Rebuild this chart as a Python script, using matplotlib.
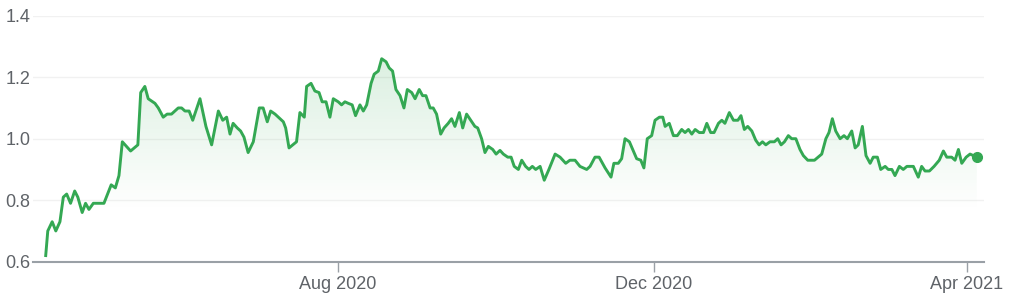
import numpy as np
import pandas as pd
import matplotlib
matplotlib.use('Agg')
import matplotlib.pyplot as plt
import matplotlib.dates as mdates
from matplotlib.colors import to_rgb

plt.rcParams['font.family'] = ['Liberation Sans', 'DejaVu Sans']

# days since 2020-04-01 and price
days = [9.1, 9.9, 11.6, 13.0, 14.6, 15.9, 17.2, 18.7, 20.3, 21.5, 23.2, 24.5, 25.8, 27.5, 31.6,
        34.4, 36.0, 37.4, 38.7, 41.9, 44.7, 45.8, 47.4, 48.7, 51.3, 52.6, 54.5, 56.0, 57.7,
        60.3, 61.6, 62.9, 64.5, 65.9, 68.7, 71.0, 73.2, 75.8, 77.5, 79.0, 80.3, 81.5, 83.1,
        84.4, 85.7, 87.3, 89.3, 91.6, 93.1, 94.7, 96.0, 97.7, 99.6, 100.9, 101.8, 103.1,
        106.0, 107.3, 109.0, 109.9, 111.6, 113.1, 114.7, 115.9, 117.4, 118.9, 120.2, 122.1,
        123.4, 124.7, 126.0, 127.5, 128.8, 130.5, 131.8, 133.1, 134.8, 136.0, 137.6, 138.9,
        140.6, 141.8, 143.1, 144.4, 146.0, 147.5, 148.8, 150.5, 151.8, 153.4, 154.7, 156.0,
        157.6, 158.8, 160.1, 161.7, 163.0, 164.6, 165.9, 167.2, 168.9, 170.2, 171.7, 173.7,
        174.9, 176.0, 177.5, 178.8, 180.1, 181.8, 183.1, 184.6, 185.9, 187.6, 188.9, 190.1,
        191.7, 193.0, 194.5, 195.8, 197.1, 198.4, 200.1, 201.7, 203.5, 205.9, 207.8, 210.0,
        211.6, 213.6, 215.5, 218.1, 219.4, 221.3, 222.9, 225.2, 227.5, 228.6, 230.3, 231.6,
        232.9, 234.6, 237.4, 239.0, 240.2, 241.5, 243.2, 244.5, 246.2, 247.5, 248.4, 250.0,
        251.6, 253.1, 254.8, 256.1, 257.4, 258.7, 260.0, 261.6, 263.2, 264.5, 266.0, 267.3,
        269.0, 270.3, 271.5, 273.2, 274.8, 276.5, 277.7, 279.0, 280.3, 281.9, 283.4, 284.7,
        286.0, 287.3, 288.9, 290.6, 291.9, 293.2, 294.5, 296.0, 297.3, 298.9, 300.5, 301.8,
        303.5, 306.1, 308.9, 310.5, 311.7, 313.0, 314.3, 316.0, 317.5, 318.8, 320.5, 321.8,
        323.0, 324.6, 326.0, 327.6, 328.8, 330.4, 331.7, 333.4, 334.6, 336.0, 337.2, 338.9,
        340.4, 341.8, 344.3, 346.2, 347.5, 348.8, 350.5, 352.3, 354.3, 355.9, 357.2, 359.1,
        360.4, 361.7, 363.0, 364.7, 366.2, 367.5, 368.8]
price = [0.62, 0.70, 0.73, 0.70, 0.73, 0.81, 0.82, 0.79, 0.83, 0.81, 0.76, 0.79, 0.77, 0.79, 0.79,
         0.85, 0.84, 0.88, 0.99, 0.96, 0.98, 1.15, 1.17, 1.13, 1.115, 1.10, 1.07, 1.08, 1.08,
         1.10, 1.10, 1.09, 1.09, 1.06, 1.13, 1.04, 0.98, 1.09, 1.06, 1.07, 1.015, 1.05, 1.035,
         1.025, 1.005, 0.955, 0.99, 1.10, 1.10, 1.055, 1.09, 1.08, 1.065, 1.055, 1.035, 0.97,
         0.99, 1.085, 1.07, 1.17, 1.18, 1.155, 1.15, 1.12, 1.12, 1.07, 1.13, 1.12,
         1.11, 1.12, 1.115, 1.11, 1.075, 1.11, 1.09, 1.11, 1.18, 1.21, 1.22, 1.26,
         1.25, 1.23, 1.22, 1.16, 1.14, 1.10, 1.16, 1.15, 1.13, 1.16, 1.14, 1.14,
         1.10, 1.10, 1.08, 1.015, 1.035, 1.05, 1.065, 1.04, 1.085, 1.035, 1.08, 1.055,
         1.04, 1.035, 1.00, 0.955, 0.975, 0.965, 0.95, 0.962, 0.95, 0.94, 0.94, 0.91,
         0.90, 0.93, 0.91, 0.90, 0.91, 0.90, 0.91, 0.865, 0.90, 0.95, 0.94, 0.92,
         0.93, 0.93, 0.91, 0.90, 0.91, 0.94, 0.94, 0.905, 0.875, 0.92, 0.92, 0.935,
         1.00, 0.99, 0.935, 0.93, 0.905, 1.00, 1.01, 1.06, 1.07, 1.07, 1.04, 1.05,
         1.01, 1.01, 1.03, 1.02, 1.03, 1.015, 1.03, 1.02, 1.02, 1.05, 1.02, 1.02,
         1.05, 1.06, 1.05, 1.085, 1.06, 1.06, 1.075, 1.03, 1.04, 1.025, 0.995, 0.98,
         0.99, 0.98, 0.99, 0.99, 1.00, 0.98, 0.99, 1.01, 1.00, 1.00, 0.965, 0.945,
         0.93, 0.93, 0.95, 1.00, 1.02, 1.065, 1.025, 1.00, 1.01, 1.00, 1.025, 0.97,
         0.98, 1.04, 0.945, 0.92, 0.94, 0.94, 0.90, 0.91, 0.90, 0.90, 0.88, 0.91,
         0.90, 0.91, 0.91, 0.875, 0.91, 0.895, 0.895, 0.91, 0.93, 0.96, 0.94, 0.94,
         0.93, 0.965, 0.92, 0.94, 0.95, 0.945, 0.94]

tick_dates = ['2020-08-01', '2020-12-01', '2021-04-01']
y_ticks = [0.6, 0.8, 1.0, 1.2, 1.4]

green = '#34a853'
text_grey = '#5f6368'

dates = pd.Timestamp('2020-04-01') + pd.to_timedelta(days, unit='D')
xnum = mdates.date2num(dates)

fig = plt.figure(figsize=(10.13, 2.99), dpi=100)
ax = fig.add_axes([0.0326, 0.1247, 0.9388, 0.8228])

# gradient fill under the line
poly = ax.fill_between(xnum, price, 0.6, facecolor='none', edgecolor='none')
grad = np.zeros((256, 1, 4))
grad[..., :3] = to_rgb(green)
alpha = np.clip(np.linspace(0.18, -0.06, 256), 0, None)
grad[:, 0, 3] = alpha
im = ax.imshow(grad, extent=[xnum[0], xnum[-1], 0.6, 1.27], aspect='auto',
               origin='upper', zorder=1, interpolation='bilinear')
im.set_clip_path(poly.get_paths()[0], transform=ax.transData)

ax.plot(xnum, price, color=green, lw=2.1, zorder=3)
ax.plot(xnum[-1], price[-1], 'o', color=green, markersize=7, zorder=4)

start = pd.Timestamp('2020-04-01')
ax.set_xlim(mdates.date2num(start + pd.Timedelta(days=4.2)),
            mdates.date2num(start + pd.Timedelta(days=371.6)))
ax.set_ylim(0.6, 1.4)

ax.set_yticks(y_ticks)
ax.set_yticklabels([f'{v:.1f}' for v in y_ticks])
ax.set_xticks(mdates.date2num(pd.to_datetime(tick_dates)))
ax.xaxis.set_major_formatter(mdates.DateFormatter('%b %Y'))

ax.grid(axis='y', color='#f1f1f1', lw=1, zorder=0)
ax.set_axisbelow(True)
for s in ['top', 'right', 'left']:
    ax.spines[s].set_visible(False)
ax.spines['bottom'].set_color('#9aa0a6')
ax.spines['bottom'].set_linewidth(1.5)

ax.tick_params(axis='y', length=0, pad=2, labelsize=13, labelcolor=text_grey)
ax.tick_params(axis='x', length=7, width=1, color='#9aa0a6', pad=3,
               labelsize=13, labelcolor=text_grey)

fig.savefig('out.png', dpi=100)
